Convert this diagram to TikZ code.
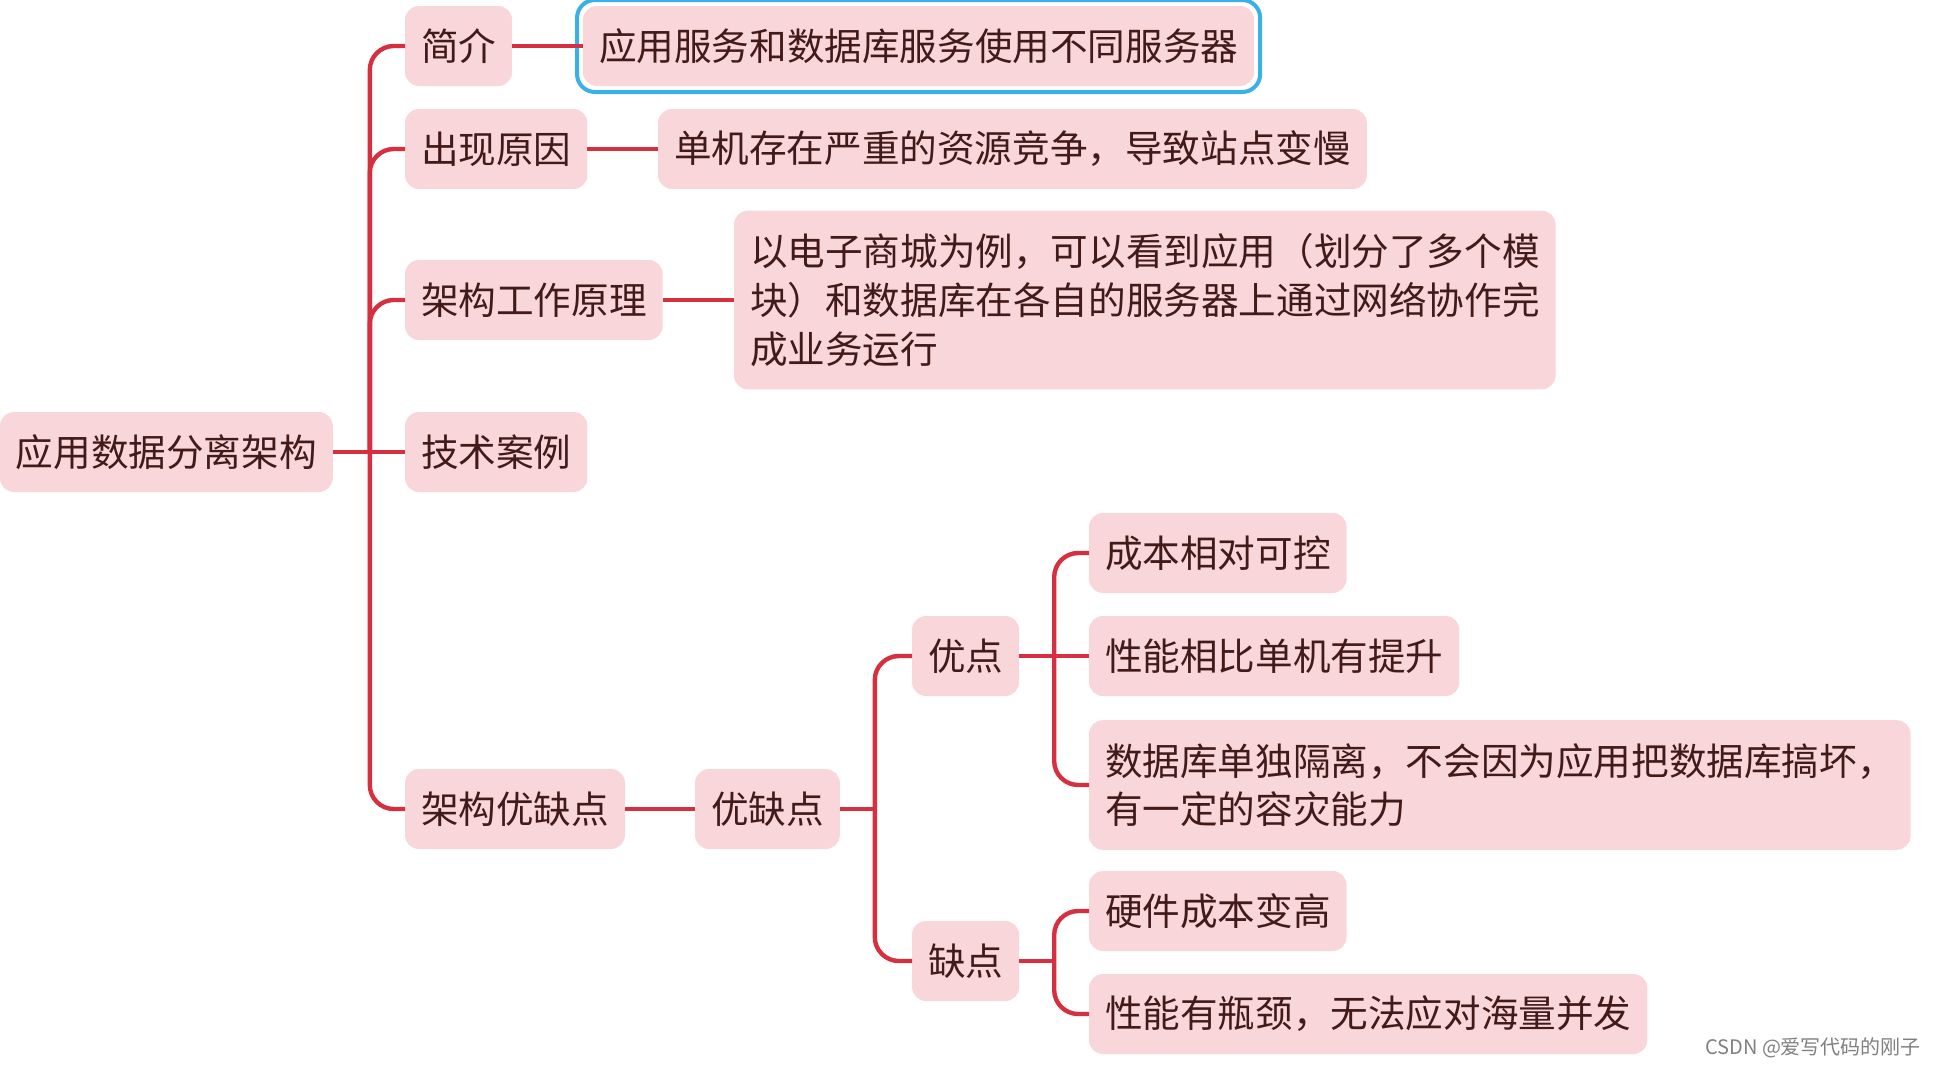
\documentclass[tikz,border=0pt]{standalone}
\usepackage{fontspec}
\newfontfamily\cjk{Noto Sans CJK SC}
\usetikzlibrary{calc,fit}
\definecolor{boxpink}{RGB}{249,214,218}
\definecolor{linkred}{RGB}{214,48,64}
\definecolor{txtbrown}{RGB}{66,26,26}
\definecolor{selblue}{RGB}{58,176,232}

\begin{document}
\begin{tikzpicture}[x=0.5pt,y=-0.5pt,
  topic/.style={fill=boxpink,rounded corners=7pt,anchor=west,inner xsep=8pt,inner ysep=10pt,
    minimum height=40pt,outer sep=0pt,text=txtbrown,align=left,
    font=\cjk\fontsize{18.8}{24.3}\selectfont},
  longtopic/.style={topic,inner ysep=11.5pt},
  link/.style={draw=linkred,line width=2.2pt,rounded corners=12pt}]
\useasboundingbox (0,0) rectangle (1940,1066);
\node[topic](root)at(0,452){应用数据分离架构};
\node[topic](intro)at(405,46){简介};
\node[topic](introtxt)at(583,46){应用服务和数据库服务使用不同服务器};
\node[fit=(introtxt),inner sep=3pt,draw=selblue,line width=2pt,rounded corners=9pt](introsel){};
\node[topic](cause)at(405,149){出现原因};
\node[topic](causetxt)at(658,149){单机存在严重的资源竞争，导致站点变慢};
\node[topic](principle)at(405,300){架构工作原理};
\node[longtopic](principletxt)at(734,300){以电子商城为例，可以看到应用（划分了多个模\\块）和数据库在各自的服务器上通过网络协作完\\成业务运行};
\node[topic](case)at(405,452){技术案例};
\node[topic](proscons)at(405,809){架构优缺点};
\node[topic](pc)at(695,809){优缺点};
\node[topic](pro)at(912,656){优点};
\node[topic](con)at(912,961){缺点};
\node[topic](proa)at(1089,553){成本相对可控};
\node[topic](prob)at(1089,656){性能相比单机有提升};
\node[longtopic](proc)at(1089,785){数据库单独隔离，不会因为应用把数据库搞坏，\\有一定的容灾能力};
\node[topic](cona)at(1089,911){硬件成本变高};
\node[topic](conb)at(1089,1014){性能有瓶颈，无法应对海量并发};
\node[anchor=east,text=gray,font=\cjk\fontsize{10}{11}\selectfont](mark)at(1928,1048){CSDN @爱写代码的刚子};

\path (root.east) ++(37,0) coordinate (trunka);
\path (pc.east) ++(35,0) coordinate (trunkb);
\path (pro.east) ++(35,0) coordinate (trunkc);
\path (con.east) ++(35,0) coordinate (trunkd);
\draw[link] (root.east) -- (case.west);
\draw[link] (trunka) |- (intro.west);
\draw[link] (trunka) |- (cause.west);
\draw[link] (trunka) |- (principle.west);
\draw[link] (trunka) |- (proscons.west);
\draw[link] (intro.east) -- (introtxt.west);
\draw[link] (cause.east) -- (causetxt.west);
\draw[link] (principle.east) -- (principletxt.west);
\draw[link] (proscons.east) -- (pc.west);
\draw[link] (pc.east) -- (trunkb);
\draw[link] (trunkb) |- (pro.west);
\draw[link] (trunkb) |- (con.west);
\draw[link] (pro.east) -- (prob.west);
\draw[link] (trunkc) |- (proa.west);
\draw[link] (trunkc) |- (proc.west);
\draw[link] (con.east) -- (trunkd);
\draw[link] (trunkd) |- (cona.west);
\draw[link] (trunkd) |- (conb.west);
\end{tikzpicture}
\end{document}
